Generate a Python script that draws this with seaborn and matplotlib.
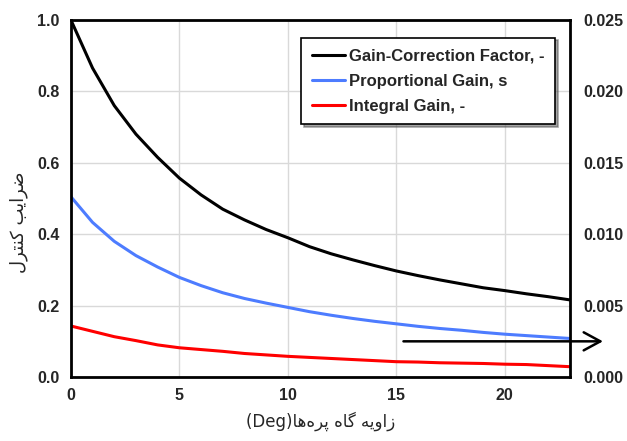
import matplotlib
matplotlib.use("Agg")
import matplotlib.pyplot as plt
import pandas as pd
import seaborn as sns

# blade pitch angle (deg)
angle = list(range(0, 24))
gain_correction = [1.0, 0.865, 0.76, 0.68, 0.615, 0.557, 0.51, 0.47, 0.44, 0.413,
                   0.39, 0.365, 0.345, 0.328, 0.312, 0.297, 0.284, 0.272, 0.261,
                   0.25, 0.242, 0.233, 0.225, 0.216]
proportional_gain = [0.505, 0.433, 0.38, 0.34, 0.308, 0.279, 0.256, 0.236, 0.22,
                     0.207, 0.195, 0.183, 0.173, 0.164, 0.156, 0.149, 0.142, 0.136,
                     0.131, 0.125, 0.12, 0.116, 0.112, 0.108]
integral_gain = [0.143, 0.128, 0.113, 0.102, 0.09, 0.082, 0.077, 0.072, 0.066,
                 0.062, 0.058, 0.055, 0.052, 0.049, 0.046, 0.043, 0.042, 0.04,
                 0.039, 0.038, 0.036, 0.035, 0.032, 0.029]
series_names = ['Gain-Correction Factor, -', 'Proportional Gain, s', 'Integral Gain, -']
series_colors = ['#000000', '#4d7cff', '#ff0000']

left_ticks = [0.0, 0.2, 0.4, 0.6, 0.8, 1.0]
right_ticks = [0.0, 0.005, 0.010, 0.015, 0.020, 0.025]
x_ticks = [0, 5, 10, 15, 20]

# Persian labels, pre-shaped in visual order (matplotlib does no bidi/shaping)
ylabel = '\uFEDD\uFEAE\uFE98\uFEE8\uFB90 \uFE90\uFBFE\uFE8D\uFEAE\uFEBF'
xlabel = ('(Deg)' + '\uFE8E\uFEEB\uFEE9\uFEAE\uFB58 \uFEE9\uFE8E\uFB94 '
          '\uFEEA\uFBFE\uFEED\uFE8D\uFEAF')

df = pd.DataFrame({'angle': angle * 3,
                   'value': gain_correction + proportional_gain + integral_gain,
                   'series': [series_names[0]] * len(angle) + [series_names[1]] * len(angle)
                             + [series_names[2]] * len(angle)})

sns.set_style('white')
plt.rcParams['font.family'] = ['Liberation Sans', 'DejaVu Sans']

fig = plt.figure(figsize=(6.27, 4.41), dpi=100)
ax = fig.add_axes([0.113, 0.145, 0.796, 0.81])
sns.lineplot(data=df, x='angle', y='value', hue='series', palette=series_colors,
             linewidth=2.2, ax=ax)

ax.set_xlim(0, 23)
ax.set_ylim(0, 1.0)
ax.set_xticks(x_ticks)
ax.set_yticks(left_ticks)
ax.set_yticklabels([f'{t:.1f}' for t in left_ticks])
ax.grid(True, color='#d9d9d9', linewidth=1)
ax.set_axisbelow(True)
for s in ax.spines.values():
    s.set_color('black')
    s.set_linewidth(2)
ax.tick_params(length=0, labelsize=11.5, pad=8)
for lbl in ax.get_xticklabels() + ax.get_yticklabels():
    lbl.set_fontweight('bold')
ax.set_xlabel(xlabel, fontsize=12, family=['DejaVu Sans'], labelpad=6)
ax.set_ylabel(ylabel, fontsize=13, family=['DejaVu Sans'])
ax.yaxis.set_label_coords(-0.086, 0.434)

ax2 = ax.twinx()
ax2.set_ylim(0, 0.025)
ax2.set_yticks(right_ticks)
ax2.set_yticklabels([f'{t:.3f}' for t in right_ticks])
ax2.tick_params(length=0, labelsize=11.5, pad=10)
for lbl in ax2.get_yticklabels():
    lbl.set_fontweight('bold')
for s in ax2.spines.values():
    s.set_visible(False)

leg = ax.legend(loc='upper right', bbox_to_anchor=(0.97, 0.95), borderaxespad=0,
                frameon=True, fancybox=False, shadow=True, handlelength=2.0,
                handletextpad=0.2, labelspacing=0.6, borderpad=0.65,
                prop={'weight': 'bold', 'size': 12})
leg.get_frame().set_edgecolor('black')
leg.get_frame().set_linewidth(1.2)
leg.get_frame().set_alpha(1)
leg.set_zorder(5)

ax.annotate('', xy=(24.65, 0.10), xytext=(15.2, 0.10), annotation_clip=False,
            arrowprops=dict(arrowstyle='->,head_length=1.2,head_width=0.65',
                            color='black', linewidth=1.8))

fig.savefig('out.png', dpi=100)
